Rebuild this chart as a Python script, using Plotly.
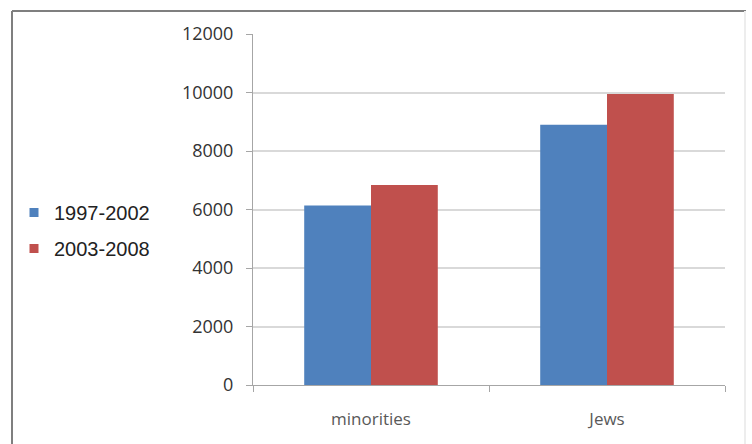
import plotly.graph_objects as go

categories = ["minorities", "Jews"]
series_names = ["1997-2002", "2003-2008"]
values_1997_2002 = [6140, 8900]
values_2003_2008 = [6840, 9950]
y_ticks = [0, 2000, 4000, 6000, 8000, 10000, 12000]
y_tick_labels = ["0", "2000", "4000", "6000", "8000", "10000", "12000"]

colors = ["#4F81BD", "#C0504D"]

W, H = 752, 444
L, R, T, B = 253, 27, 34, 59
pw, ph = W - L - R, H - T - B

def px_x(px):
    return (px - L) / pw

def px_y(py):
    return (H - B - py) / ph

fig = go.Figure()
for name, vals, col in zip(series_names, [values_1997_2002, values_2003_2008], colors):
    fig.add_trace(go.Bar(x=categories, y=vals, name=name, marker_color=col,
                         marker_line_width=0, showlegend=False))
for i, (name, col) in enumerate(zip(series_names, colors)):
    fig.add_trace(go.Scatter(x=[None], y=[None], mode="markers", name=name,
                             legendgroup=f"g{i}",
                             marker=dict(symbol="square", size=9, color=col)))

fig.update_layout(
    width=W, height=H,
    margin=dict(l=L, r=R, t=T, b=B),
    paper_bgcolor="white", plot_bgcolor="white",
    barmode="group", bargap=0.434, bargroupgap=0,
    showlegend=True,
    legend=dict(x=px_x(14), xanchor="left", y=px_y(230.5), yanchor="middle",
                font=dict(family="Liberation Sans, Arial", size=20, color="#222222"),
                tracegroupgap=7, itemwidth=30, bgcolor="rgba(0,0,0,0)"),
    xaxis=dict(type="category", showgrid=False, showline=True, linecolor="#A6A6A6",
               linewidth=1, ticks="outside", tickson="boundaries", ticklen=6,
               tickcolor="#A6A6A6", ticklabelstandoff=19,
               tickfont=dict(family="Open Sans", size=17, color="#595959")),
    yaxis=dict(range=[0, 12000], tickvals=y_ticks, ticktext=y_tick_labels,
               showgrid=True, gridcolor="#D9D9D9",
               gridwidth=1.5, showline=True, linecolor="#A6A6A6", linewidth=1,
               ticks="outside", ticklen=6, tickcolor="#A6A6A6", zeroline=False,
               ticklabelstandoff=9,
               tickfont=dict(family="Open Sans", size=18, color="#333333")),
    shapes=[
        dict(type="line", xref="paper", yref="paper", x0=px_x(12), x1=px_x(12),
             y0=px_y(11), y1=px_y(460), line=dict(color="#7F7F7F", width=2)),
        dict(type="line", xref="paper", yref="paper", x0=px_x(12), x1=px_x(746),
             y0=px_y(11), y1=px_y(11), line=dict(color="#7F7F7F", width=2)),
        dict(type="line", xref="paper", yref="paper", x0=px_x(745), x1=px_x(745),
             y0=px_y(11), y1=px_y(460), line=dict(color="#EDEDED", width=2)),
    ],
)

fig.write_html("out.html")
